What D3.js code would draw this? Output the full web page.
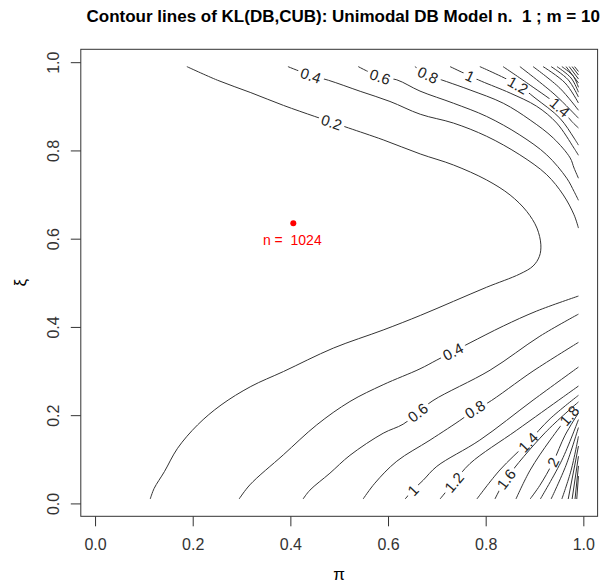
<!DOCTYPE html>
<html><head><meta charset="utf-8">
<script src="https://cdn.jsdelivr.net/npm/d3@7/dist/d3.min.js"></script>
<style>body{margin:0;background:#fff}text{font-family:"Liberation Sans",Arial,sans-serif}</style>
</head><body><svg id="c" width="610" height="587"></svg>
<script>
// ---- data ----
const titleText = "Contour lines of KL(DB,CUB): Unimodal DB Model n.  1 ; m = 10";
const xTicks = [0, 0.2, 0.4, 0.6, 0.8, 1.0];
const yTicks = [0, 0.2, 0.4, 0.6, 0.8, 1.0];
const gridRange = [0.01, 0.99];
const estimate = {pi: 0.406, xi: 0.635, n: 1024};

// contour lines, points are [pi, xi]
const c02 = [[0.188,0.990],[0.251,0.959],[0.319,0.931],[0.386,0.902],[0.450,0.877],[0.4845,0.864],[0.519,0.851],[0.590,0.824],[0.666,0.792],[0.734,0.767],[0.802,0.733],[0.850,0.699],[0.884,0.662],[0.905,0.624],[0.913,0.586],[0.910,0.560],[0.897,0.538],[0.870,0.520],[0.802,0.490],[0.734,0.458],[0.666,0.426],[0.590,0.393],[0.488,0.352],[0.386,0.299],[0.319,0.265],[0.258,0.223],[0.210,0.178],[0.169,0.125],[0.142,0.072],[0.121,0.034],[0.113,0.010]];
const c04a = [[0.395,0.990],[0.442,0.970],[0.478,0.959],[0.543,0.934],[0.604,0.911],[0.666,0.882],[0.734,0.862],[0.802,0.832],[0.870,0.790],[0.925,0.745],[0.959,0.699],[0.981,0.654],[0.990,0.624]];
const c04b = [[0.990,0.470],[0.9045,0.436],[0.836,0.402],[0.768,0.364],[0.733,0.344],[0.700,0.325],[0.6655,0.305],[0.590,0.269],[0.522,0.231],[0.454,0.178],[0.3855,0.110],[0.317,0.042],[0.295,0.010]];
const c06a = [[0.539,0.990],[0.5836,0.967],[0.618,0.960],[0.6655,0.9345],[0.734,0.907],[0.802,0.877],[0.870,0.835],[0.925,0.790],[0.966,0.737],[0.981,0.707],[0.990,0.687]];
const c06b = [[0.990,0.429],[0.911,0.379],[0.809,0.302],[0.692,0.233],[0.661,0.206],[0.631,0.1796],[0.590,0.159],[0.522,0.109],[0.481,0.0685],[0.440,0.030],[0.426,0.010]];
const c08a = [[0.655,0.990],[0.682,0.971],[0.720,0.956],[0.768,0.937],[0.836,0.907],[0.891,0.869],[0.9385,0.828],[0.973,0.783],[0.981,0.760],[0.990,0.737]];
const c08b = [[0.990,0.365],[0.897,0.300],[0.803,0.227],[0.778,0.2135],[0.7536,0.193],[0.686,0.1435],[0.618,0.0957],[0.573,0.0458],[0.549,0.010]];
const c10a = [[0.727,0.990],[0.768,0.9685],[0.792,0.9565],[0.850,0.930],[0.9045,0.900],[0.9455,0.862],[0.981,0.805],[0.990,0.789]];
const c10b = [[0.990,0.309],[0.897,0.234],[0.788,0.1435],[0.700,0.084],[0.672,0.0525],[0.651,0.030],[0.635,0.010]];
const c12a = [[0.788,0.990],[0.8662,0.948],[0.901,0.919],[0.952,0.873],[0.981,0.828],[0.990,0.812]];
const c12b = [[0.990,0.266],[0.959,0.2415],[0.8636,0.166],[0.768,0.0905],[0.735,0.048],[0.7065,0.010]];
const c14a = [[0.8355,0.990],[0.891,0.948],[0.952,0.898],[0.976,0.866],[0.990,0.851]];
const c14b = [[0.990,0.245],[0.932,0.192],[0.8867,0.139],[0.829,0.0757],[0.782,0.010]];
const c16a = [[0.870,0.990],[0.942,0.926],[0.990,0.873]];
const c16b = [[0.990,0.230],[0.9215,0.160],[0.8417,0.055],[0.819,0.010]];
const c18a = [[0.897,0.990],[0.952,0.941],[0.990,0.891]];
const c18b = [[0.990,0.218],[0.971,0.199],[0.932,0.1435],[0.891,0.0753],[0.862,0.010]];
const c20a = [[0.9175,0.990],[0.9626,0.953],[0.990,0.9075]];
const c20b = [[0.990,0.205],[0.9626,0.1546],[0.938,0.0935],[0.911,0.041],[0.891,0.010]];
const c22a = [[0.934,0.990],[0.969,0.960],[0.990,0.921]];
const c22b = [[0.990,0.190],[0.956,0.098],[0.912,0.010]];
const c24a = [[0.946,0.990],[0.975,0.964],[0.990,0.932]];
const c24b = [[0.990,0.172],[0.9646,0.0866],[0.934,0.010]];
const c26a = [[0.956,0.990],[0.979,0.969],[0.990,0.943]];
const c26b = [[0.990,0.152],[0.975,0.0753],[0.956,0.010]];
const c28a = [[0.9646,0.990],[0.990,0.953]];
const c28b = [[0.990,0.130],[0.969,0.010]];
const c30a = [[0.971,0.990],[0.990,0.962]];
const c30b = [[0.990,0.107],[0.977,0.010]];
const c32a = [[0.977,0.990],[0.990,0.971]];
const c32b = [[0.990,0.085],[0.983,0.010]];
const c34a = [[0.982,0.990],[0.990,0.979]];
const c34b = [[0.990,0.062],[0.9865,0.010]];

const contourLines = {c02,c04a,c04b,c06a,c06b,c08a,c08b,c10a,c10b,c12a,c12b,c14a,c14b,c16a,c16b,c18a,c18b,c20a,c20b,c22a,c22b,c24a,c24b,c26a,c26b,c28a,c28b,c30a,c30b,c32a,c32b,c34a,c34b};

// contour labels: [text, pi, xi, line]
const contourLabels = [
  ["0.2",0.4845,0.864,"c02"],
  ["0.4",0.442,0.970,"c04a"],
  ["0.6",0.5836,0.967,"c06a"],
  ["0.8",0.682,0.971,"c08a"],
  ["1",0.768,0.9685,"c10a"],
  ["1.2",0.8662,0.948,"c12a"],
  ["1.4",0.952,0.898,"c14a"],
  ["0.4",0.733,0.344,"c04b"],
  ["0.6",0.661,0.206,"c06b"],
  ["0.8",0.778,0.2135,"c08b"],
  ["1",0.651,0.030,"c10b"],
  ["1.2",0.735,0.048,"c12b"],
  ["1.4",0.8867,0.139,"c14b"],
  ["1.6",0.8417,0.055,"c16b"],
  ["1.8",0.971,0.199,"c18b"],
  ["2",0.938,0.0935,"c20b"]
];

// ---- drawing ----
const svg = d3.select("#c");
const pad = 0.04*(gridRange[1]-gridRange[0]);
const x = d3.scaleLinear().domain([gridRange[0]-pad, gridRange[1]+pad]).range([80.8, 597.6]);
const y = d3.scaleLinear().domain([gridRange[0]-pad, gridRange[1]+pad]).range([516.3, 49.3]);
const [bx0,bx1] = x.range(), [by0,by1] = y.range();

svg.append("text").attr("x",(bx0+bx1)/2+4).attr("y",22).attr("text-anchor","middle")
  .attr("font-weight","bold").attr("font-size",17).attr("fill","#000")
  .attr("xml:space","preserve").style("white-space","pre").text(titleText);

const gLines = svg.append("g");
const gLabels = svg.append("g");
const defs = svg.append("defs");

const line = d3.line().x(d=>x(d[0])).y(d=>y(d[1])).curve(d3.curveCatmullRom.alpha(0.5));

const maskRects = {};
contourLabels.forEach(([t,p,q,name])=>{
  const pts = contourLines[name];
  const px = x(p), py = y(q);
  let bi=0, bd=Infinity;
  pts.forEach((d,i)=>{const dd=(x(d[0])-px)**2+(y(d[1])-py)**2; if(dd<bd){bd=dd;bi=i;}});
  const a = pts[Math.max(0,bi-1)], b = pts[Math.min(pts.length-1,bi+1)];
  let ang = Math.atan2(y(b[1])-y(a[1]), x(b[0])-x(a[0]))*180/Math.PI;
  if(ang>90) ang-=180; if(ang<-90) ang+=180;
  const tr = `translate(${px},${py}) rotate(${ang})`;
  const tx = gLabels.append("text").attr("transform",tr).attr("text-anchor","middle")
    .attr("dominant-baseline","central").attr("font-size",15).attr("fill","#222").text(t);
  const w = tx.node().getComputedTextLength();
  (maskRects[name] = maskRects[name]||[]).push({tr, w});
});

Object.entries(contourLines).forEach(([name,pts])=>{
  const path = gLines.append("path").attr("d",line(pts)).attr("fill","none")
    .attr("stroke","#333").attr("stroke-width",1);
  if(maskRects[name]){
    const m = defs.append("mask").attr("id","m_"+name).attr("maskUnits","userSpaceOnUse")
      .attr("x",0).attr("y",0).attr("width",610).attr("height",587);
    m.append("rect").attr("x",0).attr("y",0).attr("width",610).attr("height",587).attr("fill","#fff");
    maskRects[name].forEach(r=>{
      m.append("rect").attr("transform",r.tr).attr("x",-r.w/2-3).attr("y",-8).attr("width",r.w+6).attr("height",16).attr("fill","#000");
    });
    path.attr("mask",`url(#m_${name})`);
  }
});

// box
svg.append("rect").attr("x",bx0).attr("y",by1).attr("width",bx1-bx0).attr("height",by0-by1)
  .attr("fill","none").attr("stroke","#333").attr("stroke-width",1);

// x axis
const gx = svg.append("g").attr("transform",`translate(0,${by0})`)
  .call(d3.axisBottom(x).tickValues(xTicks).tickFormat(d3.format(".1f")).tickSize(10).tickSizeOuter(0).tickPadding(12));
gx.select(".domain").remove();
gx.selectAll("line").attr("stroke","#333");
gx.selectAll("text").attr("font-size",16).attr("fill","#333").attr("font-family",null);

// y axis
const gy = svg.append("g").attr("transform",`translate(${bx0},0)`)
  .call(d3.axisLeft(y).tickValues(yTicks).tickFormat(d3.format(".1f")).tickSize(10).tickSizeOuter(0));
gy.select(".domain").remove();
gy.selectAll("line").attr("stroke","#333");
gy.selectAll("text").attr("x",null).attr("dy",null).attr("text-anchor","middle")
  .attr("dominant-baseline","central").attr("transform","translate(-27,0) rotate(-90)")
  .attr("font-size",16).attr("fill","#333").attr("font-family",null);

// axis titles
svg.append("text").attr("x",(bx0+bx1)/2).attr("y",580).attr("text-anchor","middle")
  .attr("font-size",17).attr("fill","#000").text("π");
svg.append("text").attr("transform",`translate(20,${(by0+by1)/2}) rotate(-90)`).attr("text-anchor","middle")
  .attr("dominant-baseline","central").attr("font-size",17).attr("fill","#000").text("ξ");

// estimate point
svg.append("circle").attr("cx",x(estimate.pi)).attr("cy",y(estimate.xi)).attr("r",3).attr("fill","#ff0000");
svg.append("text").attr("x",x(estimate.pi)-1).attr("y",y(estimate.xi)+22).attr("text-anchor","middle")
  .attr("font-size",14).attr("fill","#ff0000").attr("xml:space","preserve").style("white-space","pre").text("n =  " + estimate.n);
</script></body></html>
